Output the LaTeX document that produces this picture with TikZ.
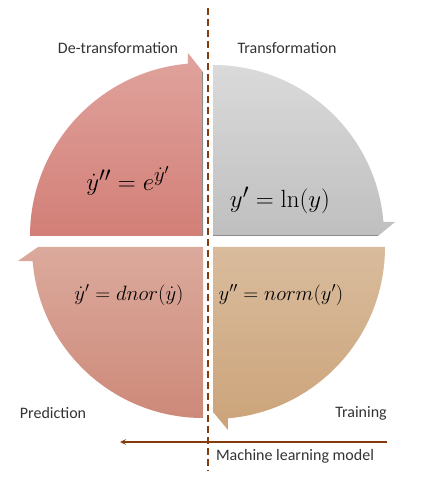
\documentclass[tikz,border=0pt]{standalone}
\usepackage{amsmath}
\usepackage[no-math]{fontspec}
\setmainfont{Carlito}
\usepackage{tikz}
\usetikzlibrary{arrows}

\definecolor{detrtop}{RGB}{224,163,157}
\definecolor{detrbot}{RGB}{210,127,119}
\definecolor{trtop}{RGB}{218,218,218}
\definecolor{trbot}{RGB}{191,191,191}
\definecolor{predtop}{RGB}{219,170,156}
\definecolor{predbot}{RGB}{205,137,121}
\definecolor{traintop}{RGB}{217,188,157}
\definecolor{trainbot}{RGB}{203,163,121}
\definecolor{rust}{RGB}{132,60,12}

\begin{document}
\begin{tikzpicture}[x=1pt,y=1pt]
        \tikzstyle{phase} = [font=\fontsize{16}{19}\selectfont, text=black!80]
        \tikzstyle{bigeq} = [font=\fontsize{29}{34}\selectfont, inner sep=1pt]
        \tikzstyle{smalleq} = [font=\fontsize{21}{25}\selectfont, inner sep=1pt]
        \tikzstyle{divider} = [rust, line width=2pt, dash pattern=on 7pt off 4pt]
        \tikzstyle{arrow} = [rust, line width=1.6pt, ->, >=stealth]
        \tikzstyle{edge} = [black!45, line width=0.8pt]

        \useasboundingbox (0,0) rectangle (441,491);

        % Quarters
        \path [top color=detrtop, bottom color=detrbot] (203,255) -- (30,255) arc[start angle=180, end angle=95, radius=173] -- (188,438) -- (203,419) -- cycle;
        \path [top color=trtop, bottom color=trbot] (213,255) -- (213,426) arc[start angle=90, end angle=4.7, radius=171] -- (395,269) -- (378,255) -- cycle;
        \path [top color=traintop, bottom color=trainbot] (213,244) -- (385,244) arc[start angle=0, end angle=-85, radius=172] -- (228,61) -- (213,79) -- cycle;
        \path [top color=predtop, bottom color=predbot] (203,244) -- (203,73) arc[start angle=270, end angle=184.7, radius=171] -- (18,230) -- (38,244) -- cycle;
        \draw [edge] (202.6,255) -- (202.6,419);
        \draw [edge] (213,255.4) -- (378,255.4);

        % Equations
        \node (detreq) [bigeq] at (128,310) {$\dot{y}'' = e^{\dot{y}'}$};
        \node (treq) [bigeq] at (280,291) {$y' = \ln(y)$};
        \node (predeq) [smalleq] at (129,196) {$\dot{y}' = dnor(\dot{y})$};
        \node (traineq) [smalleq] at (281,196) {$y'' = norm(y')$};

        % Labels
        \node (detr) [phase] at (118,443) {De-transformation};
        \node (tr) [phase] at (287,443) {Transformation};
        \node (pred) [phase] at (53,78) {Prediction};
        \node (train) [phase] at (361,78) {Training};
        \node (model) [phase] at (295,35) {Machine learning model};

        % Divider and arrow
        \coordinate (divtop) at (208,483);
        \coordinate (divbot) at (208,20);
        \coordinate (mlstart) at (387,49);
        \coordinate (mlend) at (120,49);
        \draw [divider] (divtop) -- (divbot);
        \draw [arrow] (mlstart) -- (mlend);
    \end{tikzpicture}
\end{document}
